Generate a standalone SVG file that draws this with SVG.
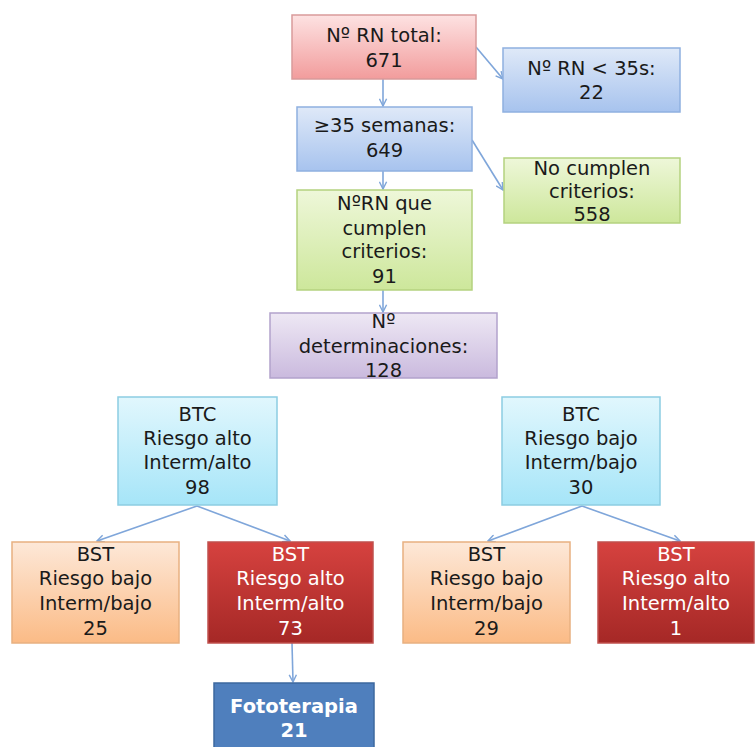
<svg xmlns="http://www.w3.org/2000/svg" width="755" height="747" viewBox="0 0 755 747">
<defs>
<linearGradient id="gRed" x1="0" y1="0" x2="0" y2="1"><stop offset="0" stop-color="#fde2e2"/><stop offset="1" stop-color="#f29c9c"/></linearGradient>
<linearGradient id="gBlue" x1="0" y1="0" x2="0" y2="1"><stop offset="0" stop-color="#dfe9f8"/><stop offset="1" stop-color="#a7c3ee"/></linearGradient>
<linearGradient id="gGreen" x1="0" y1="0" x2="0" y2="1"><stop offset="0" stop-color="#eef7d9"/><stop offset="1" stop-color="#cde79b"/></linearGradient>
<linearGradient id="gPurple" x1="0" y1="0" x2="0" y2="1"><stop offset="0" stop-color="#eee8f4"/><stop offset="1" stop-color="#cabade"/></linearGradient>
<linearGradient id="gCyan" x1="0" y1="0" x2="0" y2="1"><stop offset="0" stop-color="#e1f7fd"/><stop offset="1" stop-color="#a6e5f8"/></linearGradient>
<linearGradient id="gOrange" x1="0" y1="0" x2="0" y2="1"><stop offset="0" stop-color="#fde8d8"/><stop offset="1" stop-color="#fbbb86"/></linearGradient>
<linearGradient id="gDark" x1="0" y1="0" x2="0" y2="1"><stop offset="0" stop-color="#d6423f"/><stop offset="1" stop-color="#a52826"/></linearGradient>
<marker id="arr" viewBox="0 0 10 10" refX="9" refY="5" markerWidth="9" markerHeight="9" markerUnits="userSpaceOnUse" orient="auto">
<path d="M1,1 L9,5 L1,9" fill="none" stroke="#7fa6da" stroke-width="1.6"/>
</marker>
</defs>
<style>
rect{stroke-width:1.5}
.red{fill:url(#gRed);stroke:#d99a9a}
.blue{fill:url(#gBlue);stroke:#8fb0e0}
.green{fill:url(#gGreen);stroke:#b4d27f}
.purple{fill:url(#gPurple);stroke:#b2a2cc}
.cyan{fill:url(#gCyan);stroke:#8ccde2}
.orange{fill:url(#gOrange);stroke:#e8b080}
.dark{fill:url(#gDark);stroke:#c0504d}
.foto{fill:#4f7fbd;stroke:#3d689f}
text{font-family:"DejaVu Sans","Liberation Sans",sans-serif;font-size:19.5px;fill:#1a1a1a;text-anchor:middle}
.w{fill:#ffffff}
.b{font-weight:bold}
.conn line{stroke:#7fa6da;stroke-width:1.6;marker-end:url(#arr)}
</style>
<g id="connectors" class="conn">
<line x1="383" y1="79" x2="383" y2="106"/>
<line x1="476" y1="47" x2="503" y2="79"/>
<line x1="383" y1="171" x2="383" y2="189"/>
<line x1="472" y1="140" x2="503" y2="190"/>
<line x1="383" y1="290" x2="383" y2="312"/>
<line x1="197" y1="506" x2="97" y2="541"/>
<line x1="197" y1="506" x2="290" y2="541"/>
<line x1="292" y1="643" x2="293" y2="682"/>
<line x1="582" y1="506" x2="488" y2="541"/>
<line x1="582" y1="506" x2="680" y2="541"/>
</g>
<g id="n_total"><rect class="red" x="292" y="15" width="184" height="64"/><text x="384" y="42">Nº RN total:</text><text x="384" y="67">671</text></g>
<g id="n_menos35"><rect class="blue" x="503" y="48" width="177" height="64"/><text x="591.5" y="75">Nº RN &lt; 35s:</text><text x="591.5" y="99">22</text></g>
<g id="n_mas35"><rect class="blue" x="297" y="107" width="175" height="64"/><text x="384.5" y="132">≥35 semanas:</text><text x="384.5" y="157">649</text></g>
<g id="n_nocumplen"><rect class="green" x="504" y="158" width="176" height="65"/><text x="592" y="175">No cumplen</text><text x="592" y="198">criterios:</text><text x="592" y="221">558</text></g>
<g id="n_cumplen"><rect class="green" x="297" y="190" width="175" height="100"/><text x="384.5" y="210">NºRN que</text><text x="384.5" y="235">cumplen</text><text x="384.5" y="258">criterios:</text><text x="384.5" y="283">91</text></g>
<g id="n_determ"><rect class="purple" x="270" y="313" width="227" height="65"/><text x="383.5" y="328">Nº</text><text x="383.5" y="353">determinaciones:</text><text x="383.5" y="377">128</text></g>
<g id="n_btc_alto"><rect class="cyan" x="118" y="397" width="159" height="108"/><text x="197.5" y="421">BTC</text><text x="197.5" y="445">Riesgo alto</text><text x="197.5" y="469">Interm/alto</text><text x="197.5" y="494">98</text></g>
<g id="n_btc_bajo"><rect class="cyan" x="502" y="397" width="158" height="108"/><text x="581" y="421">BTC</text><text x="581" y="445">Riesgo bajo</text><text x="581" y="469">Interm/bajo</text><text x="581" y="494">30</text></g>
<g id="n_bst1"><rect class="orange" x="12" y="542" width="167" height="101"/><text x="95.5" y="561">BST</text><text x="95.5" y="585">Riesgo bajo</text><text x="95.5" y="610">Interm/bajo</text><text x="95.5" y="635">25</text></g>
<g id="n_bst2"><rect class="dark" x="208" y="542" width="165" height="101"/><text class="w" x="290.5" y="561">BST</text><text class="w" x="290.5" y="585">Riesgo alto</text><text class="w" x="290.5" y="610">Interm/alto</text><text class="w" x="290.5" y="635">73</text></g>
<g id="n_bst3"><rect class="orange" x="403" y="542" width="167" height="101"/><text x="486.5" y="561">BST</text><text x="486.5" y="585">Riesgo bajo</text><text x="486.5" y="610">Interm/bajo</text><text x="486.5" y="635">29</text></g>
<g id="n_bst4"><rect class="dark" x="598" y="542" width="156" height="101"/><text class="w" x="676" y="561">BST</text><text class="w" x="676" y="585">Riesgo alto</text><text class="w" x="676" y="610">Interm/alto</text><text class="w" x="676" y="635">1</text></g>
<g id="n_foto"><rect class="foto" x="214" y="683" width="160" height="70"/><text class="w b" x="294" y="713">Fototerapia</text><text class="w b" x="294" y="737">21</text></g>
</svg>
